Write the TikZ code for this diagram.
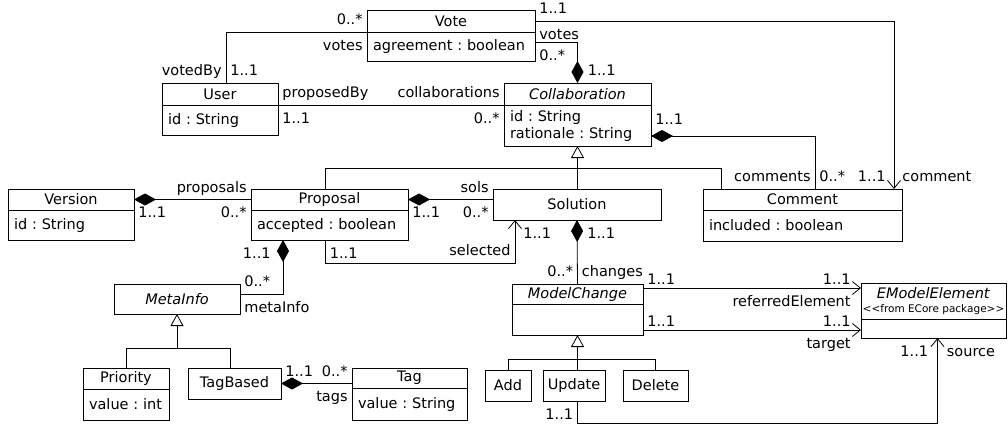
\documentclass[tikz,border=0pt]{standalone}
\usepackage{fontspec}
\setmainfont{DejaVu Sans}
\usetikzlibrary{arrows.meta}

\begin{document}
\frenchspacing
\begin{tikzpicture}[x=1pt, y=-1pt, line width=0.8pt,
    font=\fontsize{14.5}{17}\selectfont,
    head/.style={draw, anchor=north west, inner sep=0pt, outer sep=0pt},
    body/.style={draw, anchor=north west, align=left, inner xsep=6pt, inner ysep=0pt, outer sep=0pt},
    lbl/.style={inner xsep=4pt, inner ysep=3pt, text height=15pt, text depth=4pt},
    has/.style={{Diamond[length=22pt,width=12pt]}-},
    isa/.style={{Triangle[open,length=12pt,width=13pt]}-},
    nav/.style={-{Straight Barb[length=8pt,width=13pt]}}]
    \useasboundingbox (0,0) rectangle (1008,425);

    % classes
    \node[head, minimum width=168pt, minimum height=22pt] (vote) at (367,10) {Vote};
    \node[body, text width=156pt, minimum height=29pt] (vote-a) at (vote.south west) {agreement : boolean};

    \node[head, minimum width=116pt, minimum height=22pt] (user) at (162,83) {User};
    \node[body, text width=104pt, minimum height=30pt] (user-a) at (user.south west) {id : String};

    \node[head, minimum width=147pt, minimum height=22pt] (collab) at (504,83) {\textit{Collaboration}};
    \node[body, text width=135pt, minimum height=41pt] (collab-a) at (collab.south west) {id : String\\rationale : String};

    \node[head, minimum width=126pt, minimum height=21pt] (version) at (8,189) {Version};
    \node[body, text width=114pt, minimum height=30pt] (version-a) at (version.south west) {id : String};

    \node[head, minimum width=157pt, minimum height=21pt] (proposal) at (251,189) {Proposal};
    \node[body, text width=145pt, minimum height=30pt] (proposal-a) at (proposal.south west) {accepted : boolean};

    \node[head, minimum width=168pt, minimum height=31pt] (solution) at (493,189) {Solution};

    \node[head, minimum width=199pt, minimum height=21pt] (comment) at (703,189) {Comment};
    \node[body, text width=187pt, minimum height=31pt] (comment-a) at (comment.south west) {included : boolean};

    \node[head, minimum width=126pt, minimum height=30pt] (metainfo) at (114,284) {\textit{MetaInfo}};

    \node[head, minimum width=131pt, minimum height=20pt] (change) at (512,284) {\textit{ModelChange}};
    \node[head, minimum width=131pt, minimum height=31pt] (change-a) at (change.south west) {};

    \node[head, align=center, minimum width=145pt, minimum height=36pt] (emodel) at (861,283)
        {\textit{EModelElement}\\[-3pt]{\fontsize{10.5}{12}\selectfont <{}<from ECore package>{}>}};
    \node[head, minimum width=145pt, minimum height=19pt] (emodel-a) at (emodel.south west) {};

    \node[head, minimum width=86pt, minimum height=21pt] (priority) at (83,368) {Priority};
    \node[body, text width=74pt, minimum height=31pt] (priority-a) at (priority.south west) {value : int};

    \node[head, minimum width=93pt, minimum height=31pt] (tagbased) at (188,368) {TagBased};

    \node[head, minimum width=115pt, minimum height=20pt] (tag) at (352,368) {Tag};
    \node[body, text width=103pt, minimum height=32pt] (tag-a) at (tag.south west) {value : String};

    \node[head, minimum width=46pt, minimum height=31pt] (add) at (485,370) {Add};
    \node[head, minimum width=62pt, minimum height=31pt] (update) at (543,370) {Update};
    \node[head, minimum width=65pt, minimum height=31pt] (delete) at (623,370) {Delete};

    % associations
    \draw ([xshift=6pt]user.north) node[lbl, anchor=south east] {votedBy} node[lbl, anchor=south west] {1..1}
        |- (vote.south west) node[lbl, anchor=south east] {0..*} node[lbl, anchor=north east] {votes};
    \draw (user.south east) node[lbl, anchor=south west] {proposedBy} node[lbl, anchor=north west] {1..1}
        -- (collab.south west) node[lbl, anchor=south east] {collaborations} node[lbl, anchor=north east] {0..*};
    \draw[nav] (vote.east) node[lbl, anchor=south west] {1..1} node[lbl, anchor=north west] {votes}
        -| ([xshift=-8pt]comment.north east) node[lbl, anchor=south east, xshift=-4pt] {1..1}
        node[lbl, anchor=south west, xshift=4pt] {comment};
    \draw[nav] ([xshift=-4pt]proposal-a.south) node[lbl, anchor=north west] {1..1}
        -- ++(0,23) -| node[lbl, pos=0.5, anchor=south east] {selected}
        ([xshift=22pt]solution.south west) node[lbl, anchor=north west, xshift=4pt] {1..1};
    \draw[nav] ([yshift=-4pt]change.north east) node[lbl, anchor=south west, yshift=-4pt] {1..1}
        -- ([yshift=-5pt]emodel.north west) node[lbl, anchor=south east, xshift=-6pt, yshift=-4pt] {1..1}
        node[lbl, anchor=north east, xshift=-6pt] {referredElement};
    \draw[nav] ([yshift=5pt]change-a.south east) node[lbl, anchor=south west, yshift=-4pt] {1..1}
        -- ([yshift=8pt]emodel-a.south west) node[lbl, anchor=south east, xshift=-6pt, yshift=-4pt] {1..1}
        node[lbl, anchor=north east, xshift=-6pt] {target};
    \draw[nav] (change-a.south |- update.south) node[lbl, anchor=north east] {1..1}
        -- ++(0,22) -| ([xshift=4pt]emodel-a.south) node[lbl, anchor=north east, xshift=-5pt] {1..1}
        node[lbl, anchor=north west, xshift=5pt] {source};

    % compositions
    \draw[has] (collab.north) node[lbl, anchor=south west, xshift=6pt] {1..1}
        |- ([yshift=4.5pt]vote-a.east) node[lbl, anchor=north west] {0..*};
    \draw[has] ([yshift=-10.5pt]collab-a.east) node[lbl, anchor=south west, yshift=4pt] {1..1}
        -| ([xshift=12.5pt]comment.north) node[lbl, anchor=south east] {comments} node[lbl, anchor=south west] {0..*};
    \draw[has] (version.east) node[lbl, anchor=north west] {1..1}
        -- (proposal.west) node[lbl, anchor=south east] {proposals} node[lbl, anchor=north east] {0..*};
    \draw[has] (proposal.east) node[lbl, anchor=north west] {1..1}
        -- (proposal.east -| solution.west) node[lbl, anchor=south east] {sols} node[lbl, anchor=north east] {0..*};
    \draw[has] ([xshift=32pt]proposal-a.south west) node[lbl, anchor=north east, xshift=-8pt] {1..1}
        |- ([yshift=5pt]metainfo.east) node[lbl, anchor=south west] {0..*} node[lbl, anchor=north west] {metaInfo};
    \draw[has] (solution.south) node[lbl, anchor=north west, xshift=6pt] {1..1}
        -- (change.north) node[lbl, anchor=south east] {0..*} node[lbl, anchor=south west] {changes};
    \draw[has] (tagbased.east) node[lbl, anchor=south west] {1..1}
        -- (tagbased.east -| tag.west) node[lbl, anchor=south east] {0..*} node[lbl, anchor=north east] {tags};

    % generalizations
    \draw[isa] (collab-a.south) -- (collab-a.south |- solution.north);
    \draw ([xshift=-4pt]proposal.north) -- ++(0,-21) -| ([xshift=18pt]comment.north west);
    \draw[isa] (metainfo.south) -- ++(0,34);
    \draw (priority.north) -- ++(0,-20) -| ([xshift=-4pt]tagbased.north);
    \draw[isa] (change-a.south) -- (change-a.south |- update.north);
    \draw (add.north) -- ++(0,-11) -| (delete.north);
\end{tikzpicture}
\end{document}
